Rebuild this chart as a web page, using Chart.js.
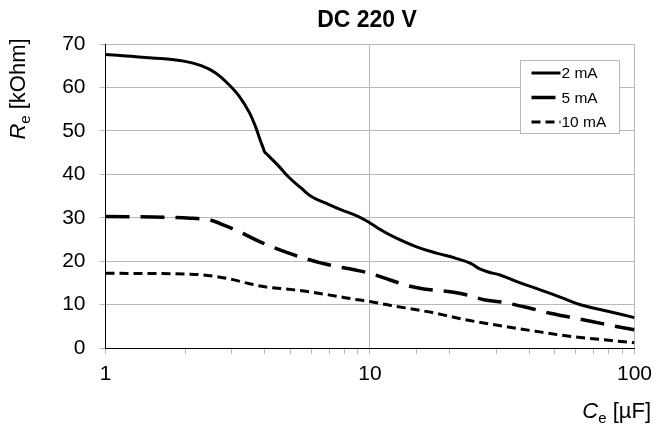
<!DOCTYPE html>
<html lang="en">
<head>
<meta charset="UTF-8">
<title>DC 220 V</title>
<script src="https://cdn.jsdelivr.net/npm/chart.js@4.4.1/dist/chart.umd.min.js"></script>
<style>
  body { margin: 0; background: #fff; }
  canvas { display: block; }
</style>
</head>
<body>
<canvas id="myChart" width="660" height="425"></canvas>
<script>
// values
const cap2mA = [1, 1.5, 2, 2.3, 2.6, 2.9, 3.2, 3.5, 3.7, 3.85, 3.95, 4.0, 4.05, 4.5, 4.9, 5.5, 6.0, 7.0, 7.8, 9.0, 10, 11, 12.3, 15, 18, 21, 24, 26, 28, 31, 37, 44, 53, 63, 80, 100];
const res2mA = [67.6, 66.8, 66.0, 65.0, 63.4, 60.9, 58.0, 54.2, 50.8, 47.8, 46.0, 45.1, 44.8, 42.0, 39.5, 36.8, 34.9, 33.0, 31.8, 30.3, 28.8, 27.2, 25.6, 23.3, 21.8, 20.7, 19.5, 18.2, 17.5, 16.8, 15.0, 13.4, 11.6, 9.9, 8.4, 7.0];

const cap5mA = [1, 2.1, 2.5, 2.8, 3.2, 3.7, 4.1, 4.9, 5.7, 6.5, 7.6, 8.7, 10, 12, 14, 16, 21, 24, 27, 32, 40, 48, 58, 69, 83, 100];
const res5mA = [30.3, 29.9, 29.4, 28.3, 26.8, 24.9, 23.7, 21.9, 20.6, 19.6, 18.7, 18.0, 17.2, 15.6, 14.3, 13.6, 12.8, 12.0, 11.1, 10.5, 9.2, 8.0, 7.0, 6.1, 5.1, 4.2];

const cap10mA = [1, 2.1, 2.6, 3.0, 3.5, 4.0, 5.0, 5.8, 7.5, 9.0, 10, 12, 15, 17.4, 20, 23, 28, 36, 45, 55, 68, 82, 100];
const res10mA = [17.2, 17.0, 16.5, 15.8, 14.8, 14.1, 13.5, 13.0, 11.9, 11.1, 10.7, 9.8, 8.8, 8.1, 7.3, 6.5, 5.6, 4.5, 3.6, 2.8, 2.2, 1.7, 1.2];

const seriesLabels = ['2 mA', '5 mA', '10 mA'];
const xLabelTicks = [1, 10, 100];
const xGridTicks = [10, 100];
const yMin = 0, yMax = 70, yStep = 10;

const FONT = "'Liberation Sans', Arial, sans-serif";
const GRID = '#b9b9b9';

function points(xs, ys) {
  return xs.map((x, i) => ({ x: x, y: ys[i] }));
}

// title, axis titles with subscripts, and the boxed legend
const decorations = {
  id: 'decorations',
  afterDraw(chart) {
    const ctx = chart.ctx;
    ctx.save();
    ctx.fillStyle = '#000';

    ctx.font = 'bold 23px ' + FONT;
    ctx.textAlign = 'center';
    ctx.textBaseline = 'alphabetic';
    ctx.fillText('DC 220 V', 367, 27);

    function parts(list) {
      let w = 0;
      list.forEach(p => { ctx.font = p.font; p.w = ctx.measureText(p.t).width; w += p.w; });
      return w;
    }
    function drawParts(list, x, y) {
      ctx.textAlign = 'left';
      list.forEach(p => { ctx.font = p.font; ctx.fillText(p.t, x, y + p.dy); x += p.w; });
    }

    // y title, rotated
    const yt = [
      { t: 'R', font: 'italic 22px ' + FONT, dy: 0 },
      { t: 'e', font: '15px ' + FONT, dy: 5 },
      { t: ' [kOhm]', font: '22px ' + FONT, dy: 0 }
    ];
    const yw = parts(yt);
    ctx.save();
    ctx.translate(25, 89);
    ctx.rotate(-Math.PI / 2);
    drawParts(yt, -yw / 2, 0);
    ctx.restore();

    // x title, right aligned under the axis
    const xt = [
      { t: 'C', font: 'italic 22px ' + FONT, dy: 0 },
      { t: 'e', font: '15px ' + FONT, dy: 5 },
      { t: ' [\u00b5F]', font: '22px ' + FONT, dy: 0 }
    ];
    const xw = parts(xt);
    drawParts(xt, 651 - xw, 418);

    // legend box
    const lx = 520.5, ly = 60.5, lw = 99, lh = 73;
    ctx.fillStyle = '#fff';
    ctx.fillRect(lx, ly, lw, lh);
    ctx.strokeStyle = GRID;
    ctx.lineWidth = 1;
    ctx.strokeRect(lx, ly, lw, lh);
    ctx.font = '15.5px ' + FONT;
    ctx.textBaseline = 'middle';
    ctx.textAlign = 'left';
    chart.data.datasets.forEach((ds, i) => {
      const cy = ly + 12.5 + i * 24.5;
      ctx.save();
      ctx.strokeStyle = '#000';
      ctx.lineWidth = ds.borderWidth;
      ctx.setLineDash(ds.borderDash || []);
      ctx.beginPath();
      ctx.moveTo(lx + 11, cy);
      ctx.lineTo(lx + 40, cy);
      ctx.stroke();
      ctx.restore();
      ctx.fillStyle = '#000';
      ctx.fillText(ds.label, lx + 41, cy + 1);
    });
    ctx.restore();
  }
};

const ctx = document.getElementById('myChart').getContext('2d');
const myChart = new Chart(ctx, {
  type: 'line',
  data: {
    datasets: [
      { label: seriesLabels[0], data: points(cap2mA, res2mA), borderColor: '#000', borderWidth: 3, borderDash: [],
        cubicInterpolationMode: 'default', tension: 0.4, borderJoinStyle: 'round' },
      { label: seriesLabels[1], data: points(cap5mA, res5mA), borderColor: '#000', borderWidth: 3.5, borderDash: [24, 11] },
      { label: seriesLabels[2], data: points(cap10mA, res10mA), borderColor: '#000', borderWidth: 3, borderDash: [9, 5] }
    ]
  },
  options: {
    responsive: false,
    animation: false,
    elements: {
      point: { radius: 0 },
      line: { cubicInterpolationMode: 'monotone', borderCapStyle: 'butt', fill: false }
    },
    layout: { padding: { left: 0, right: 21, top: 44, bottom: 0 } },
    plugins: {
      legend: { display: false },
      title: { display: false },
      tooltip: { enabled: false }
    },
    scales: {
      x: {
        type: 'logarithmic',
        min: 1,
        max: 100,
        afterFit: s => { s.height = 77; },
        border: { color: '#000', width: 1 },
        grid: {
          color: c => (c.tick && xGridTicks.includes(c.tick.value)) ? GRID : 'rgba(0,0,0,0)',
          tickColor: GRID,
          tickLength: 6,
          lineWidth: 1
        },
        ticks: {
          autoSkip: false,
          maxRotation: 0,
          padding: 8,
          color: '#000',
          font: { family: FONT, size: 21 },
          callback: v => xLabelTicks.includes(v) ? String(v) : ''
        }
      },
      y: {
        min: yMin,
        max: yMax,
        afterFit: s => { s.width = 105.5; },
        border: { color: '#000', width: 1 },
        grid: {
          color: c => (c.tick && c.tick.value === yMin) ? 'rgba(0,0,0,0)' : GRID,
          tickColor: GRID,
          tickLength: 6,
          lineWidth: 1
        },
        ticks: {
          stepSize: yStep,
          padding: 14,
          color: '#000',
          font: { family: FONT, size: 21 }
        }
      }
    }
  },
  plugins: [decorations]
});
</script>
</body>
</html>
